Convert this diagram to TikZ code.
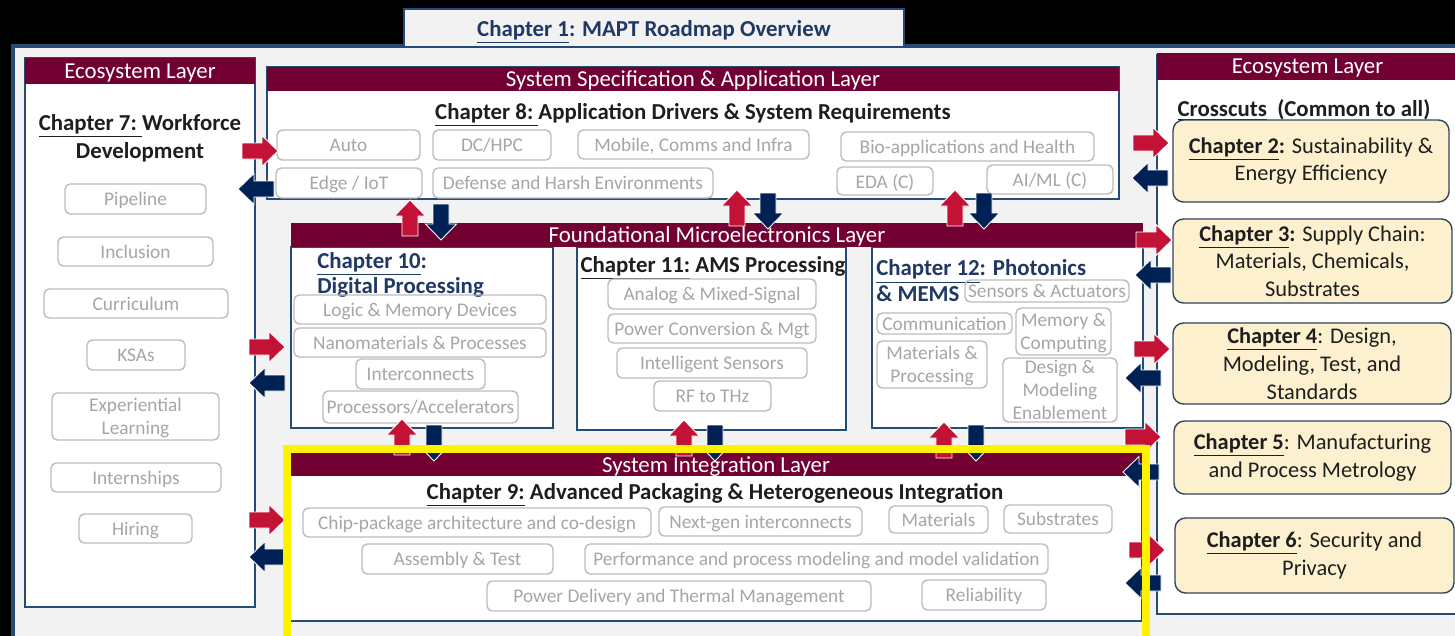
\documentclass[tikz,border=0pt]{standalone}
\usepackage{fontspec}
\setmainfont{Carlito}
\usepackage{tikz}
\usepackage{xcolor}
\definecolor{layer}{RGB}{114,0,50}
\definecolor{edge}{RGB}{37,76,117}
\definecolor{bg}{RGB}{242,242,242}
\definecolor{itemgray}{RGB}{188,188,188}
\definecolor{itemtext}{RGB}{166,166,166}
\definecolor{cream}{RGB}{252,240,206}
\definecolor{chapedge}{RGB}{48,68,92}
\definecolor{ink}{RGB}{30,30,30}
\definecolor{navytext}{RGB}{31,56,100}
\definecolor{ared}{RGB}{196,18,54}
\definecolor{anavy}{RGB}{0,33,84}

\begin{document}
\begin{tikzpicture}[x=0.02cm,y=-0.02cm,
  cell/.style args={#1/#2/#3/#4}{at={({(#1+#3)/2},{(#2+#4)/2})},minimum width={(#3-#1)*0.02cm},minimum height={(#4-#2)*0.02cm}},
  hdr/.style={fill=layer,text=white,inner sep=0pt,text depth=0pt,font=\fontsize{13}{15}\selectfont},
  panel/.style={draw=edge,fill=white,inner sep=0pt,line width=0.7pt},
  item/.style={draw=itemgray,rounded corners=3pt,text=itemtext,inner sep=0pt,text depth=0pt,align=center,line width=0.8pt,font=\fontsize{11}{13}\selectfont},
  chap/.style={draw=chapedge,fill=cream,rounded corners=6pt,inner sep=0pt,align=center,text=ink,line width=0.8pt,font=\fontsize{12.75}{15.8}\selectfont},
  ttl/.style={inner sep=0pt,text=ink,font=\bfseries\fontsize{13}{16}\selectfont},
  inarrow/.style={fill=ared,draw=white,line width=0.5pt},
  outarrow/.style={fill=anavy,draw=white,line width=0.5pt},
  blk/.pic={\path[pic actions] (-18,-8) -- (2,-8) -- (2,-15.5) -- (18,0) -- (2,15.5) -- (2,8) -- (-18,8) -- cycle;}]
\path[use as bounding box,clip] (0,0) rectangle (1455,636);
\fill[black] (0,0) rectangle (1455,636);
\draw[edge,line width=1.8pt,fill=bg] (13,46) rectangle (1470,650);
\node[draw=edge,fill=bg,line width=0.8pt,inner sep=0pt,text depth=0pt,cell=404/9/904/47,text=navytext,font=\bfseries\fontsize{13}{15}\selectfont] (ch1) {\underline{Chapter 1}: MAPT Roadmap Overview};

% workforce column
\node[panel,cell=25/58/255/607] (ecoL) {};
\node[hdr,cell=25/58/255/84] (ecoLh) {Ecosystem Layer};
\node[ttl,align=center] (ch7) at (140,138) {\underline{Chapter 7:\ }Workforce\\Development};
\node[item,cell=65/184/206/214] (pipe) {Pipeline};
\node[item,cell=58/237/213/266] (incl) {Inclusion};
\node[item,cell=44/289/228/318] (curr) {Curriculum};
\node[item,cell=87/340/185/370] (ksa) {KSAs};
\node[item,cell=52/393/219/440] (expl) {Experiential\\Learning};
\node[item,cell=51/463/221/492] (intern) {Internships};
\node[item,cell=79/514/192/543] (hire) {Hiring};

% application layer
\node[panel,cell=267/67/1119/199] (spec) {};
\node[hdr,cell=267/67/1119/91] (spech) {System Specification \& Application Layer};
\node[ttl] (ch8) at (693,115) {\underline{Chapter 8:\ }Application Drivers \& System Requirements};
\node[item,cell=277/130/420/160] (auto) {Auto};
\node[item,cell=433/130/551/160] (dchpc) {DC/HPC};
\node[item,cell=578/130/809/159] (mobile) {Mobile, Comms and Infra};
\node[item,cell=841/132/1094/161] (bio) {Bio-applications and Health};
\node[item,cell=276/168/422/198] (edge) {Edge / IoT};
\node[item,cell=433/168/713/198] (defense) {Defense and Harsh Environments};
\node[item,cell=837/167/933/195] (eda) {EDA (C)};
\node[item,cell=987/165/1113/194] (aiml) {AI/ML (C)};

% foundational layer
\node[panel,cell=291/247/553/428] (dig) {};
\node[panel,cell=577/247/846/430] (ams) {};
\node[panel,cell=872/247/1143/428] (phot) {};
\node[hdr,cell=291/223/1143/247] (found) {Foundational Microelectronics Layer};
\node[ttl,text=navytext,align=left,anchor=west,font=\bfseries\fontsize{13}{14.2}\selectfont] (ch10) at (317,274.5) {\underline{Chapter 10}:\\Digital Processing};
\node[item,cell=294/295/546/324] (logic) {Logic \& Memory Devices};
\node[item,cell=294/328/546/357] (nano) {Nanomaterials \& Processes};
\node[item,cell=356/359/485/389] (inter) {Interconnects};
\node[item,cell=323/391/518/423] (proc) {Processors/Accelerators};
\node[ttl] (ch11) at (713,268) {\underline{Chapter 11:}\ AMS Processing};
\node[item,cell=608/279/816/309] (analog) {Analog \& Mixed-Signal};
\node[item,cell=608/314/816/343] (pconv) {Power Conversion \& Mgt};
\node[item,cell=617/348/807/378] (isens) {Intelligent Sensors};
\node[item,cell=654/381/771/411] (rf) {RF to THz};
\node[ttl,text=navytext,align=left,anchor=west,font=\bfseries\fontsize{13}{14.8}\selectfont] (ch12) at (876,281) {\underline{Chapter 12}: Photonics\\\& MEMS};
\node[item,cell=965/280/1129/302] (sens) {Sensors \& Actuators};
\node[item,cell=877/313/1012/334] (comm) {Communication};
\node[item,cell=1016/308/1111/355] (mem) {Memory \&\\Computing};
\node[item,cell=877/341/987/388] (matp) {Materials \&\\Processing};
\node[item,cell=1003/358/1117/422] (dme) {Design \&\\Modeling\\Enablement};

% integration layer
\node[panel,cell=290/453/1142/621] (integ) {};
\node[hdr,cell=290/453/1142/476] (integh) {System Integration Layer};
\node[ttl] (ch9) at (715,495) {\underline{Chapter 9:}\ Advanced Packaging \& Heterogeneous Integration};
\node[item,cell=303/508/651/537] (chip) {Chip-package architecture and co-design};
\node[item,cell=659/507/862/536] (nextgen) {Next-gen interconnects};
\node[item,cell=889/506/988/533] (matl) {Materials};
\node[item,cell=1004/505/1112/533] (subs) {Substrates};
\node[item,cell=362/544/553/574] (assy) {Assembly \& Test};
\node[item,cell=585/544/1048/574] (perf) {Performance and process modeling and model validation};
\node[item,cell=487/581/871/611] (power) {Power Delivery and Thermal Management};
\node[item,cell=922/580/1046/610] (reli) {Reliability};

% crosscut column
\node[panel,cell=1157/55/1458/614] (ecoR) {};
\node[hdr,cell=1157/53/1458/80] (ecoRh) {Ecosystem Layer};
\node[ttl] (cross) at (1304,110) {\underline{Crosscuts}\ \ (Common to all)};
\node[chap,cell=1173/120/1449/202] (ch2) {\textbf{\underline{Chapter 2}:} Sustainability \&\\Energy Efficiency};
\node[chap,cell=1173/219/1452/303] (ch3) {\textbf{\underline{Chapter 3}:} Supply Chain:\\Materials, Chemicals,\\Substrates};
\node[chap,cell=1173/323/1451/404] (ch4) {\textbf{\underline{Chapter 4}}: Design,\\Modeling, Test, and\\Standards};
\node[chap,cell=1174/421/1451/494] (ch5) {\textbf{\underline{Chapter 5}}: Manufacturing\\and Process Metrology};
\node[chap,cell=1175/518/1454/593] (ch6) {\textbf{\underline{Chapter 6}}: Security and\\Privacy};

% block arrows
\pic[inarrow] at (260,151) {blk};
\pic[outarrow,rotate=180] at (256,189) {blk};
\pic[inarrow] at (267,347) {blk};
\pic[outarrow,rotate=180] at (267,383) {blk};
\pic[inarrow] at (267,520) {blk};
\pic[outarrow,rotate=180] at (267,557) {blk};
\pic[inarrow,rotate=90] at (410,218) {blk};
\pic[outarrow,rotate=-90] at (441,222) {blk};
\pic[inarrow,rotate=90] at (737,208) {blk};
\pic[outarrow,rotate=-90] at (768,211) {blk};
\pic[inarrow,rotate=90] at (955,208) {blk};
\pic[outarrow,rotate=-90] at (984,211) {blk};
\pic[inarrow,rotate=90] at (402,437) {blk};
\pic[outarrow,rotate=-90] at (434,443) {blk};
\pic[inarrow,rotate=90] at (684,438) {blk};
\pic[outarrow,rotate=-90] at (715,443) {blk};
\pic[inarrow,rotate=90] at (944,440) {blk};
\pic[outarrow,rotate=-90] at (976,443) {blk};
\pic[inarrow] at (1151,143) {blk};
\pic[outarrow,rotate=180] at (1150,178) {blk};
\pic[inarrow] at (1154,240) {blk};
\pic[outarrow,rotate=180] at (1153,275) {blk};
\pic[inarrow] at (1152,349) {blk};
\pic[outarrow,rotate=180] at (1143,378) {blk};
\pic[inarrow] at (1143,437) {blk};
\pic[outarrow,rotate=180] at (1141,472) {blk};
\pic[inarrow] at (1147,550) {blk};
\pic[outarrow,rotate=180] at (1143,583) {blk};

\draw[yellow,line width=4pt] (287,449) rectangle (1146,660);
\end{tikzpicture}
\end{document}
